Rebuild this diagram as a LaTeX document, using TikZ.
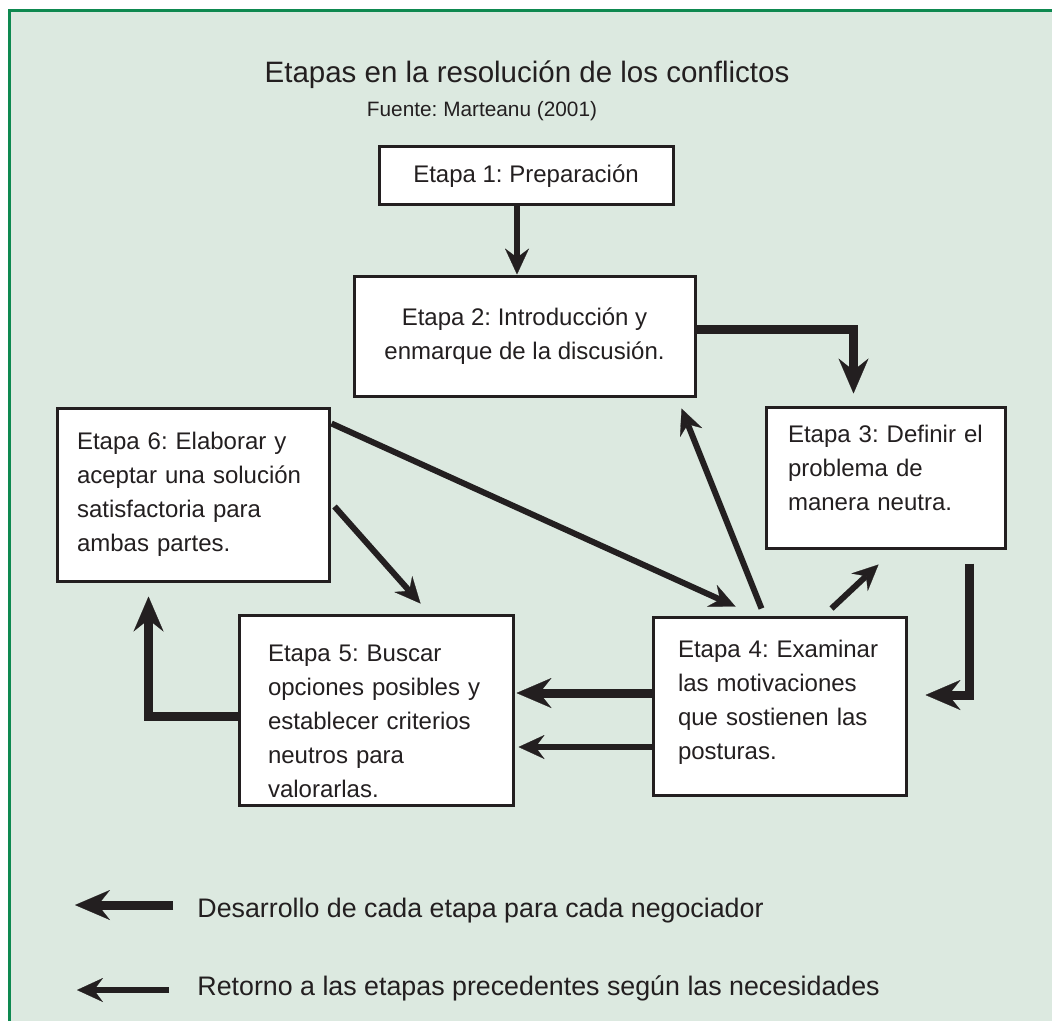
\documentclass[tikz,border=0pt]{standalone}
\usepackage{fontspec}
\setmainfont{Liberation Sans}
\usetikzlibrary{arrows.meta,calc}
\definecolor{fondo}{RGB}{220,233,224}
\definecolor{borde}{RGB}{14,137,80}
\definecolor{tinta}{RGB}{35,31,32}
\frenchspacing

\begin{document}
\begin{tikzpicture}[x=0.5pt,y=-0.5pt,
	etapa/.style={draw=tinta,line width=1.5pt,fill=white,text=tinta,font=\fontsize{12}{17}\selectfont},
	leyenda/.style={text=tinta,inner sep=0pt,anchor=west,font=\fontsize{13.4}{16}\selectfont},
	desarrollo/.style={draw=tinta,line width=4.5pt,-{Stealth[length=17.5pt,width=15pt,inset=6pt,line width=0.1pt]}},
	retorno/.style={draw=tinta,line width=3pt,-{Stealth[length=13pt,width=12pt,inset=4.5pt,line width=0.1pt]}}]
		\useasboundingbox (0,0) rectangle (1052,1021);
		\fill[white] (0,0) rectangle (1052,1021);
		\fill[fondo] (9.5,10.5) rectangle (1052,1021);
		\draw[borde,line width=1.75pt] (9.5,1021) -- (9.5,10.5) -- (1052,10.5);
		\node[text=tinta,font=\fontsize{14.75}{18}\selectfont] (titulo) at (527,75) {Etapas en la resolución de los conflictos};
		\node[text=tinta,font=\fontsize{10.4}{12}\selectfont] (fuente) at (482,111) {Fuente: Marteanu (2001)};
		\node[etapa,minimum width=147pt,minimum height=29pt] (e1) at (526,176) {Etapa 1: Preparación};
		\node[etapa,align=center,minimum width=170.5pt,minimum height=60pt] (e2) at (524.5,336) {Etapa 2: Introducción y\\enmarque de la discusión.};
		\node[etapa,align=left,inner xsep=11pt,text width=97.5pt,minimum height=70.5pt] (e3) at (885.5,477.5) {Etapa 3: Definir el\\problema de\\manera neutra.\rule[-10pt]{0pt}{0pt}};
		\node[etapa,align=left,inner xsep=12.5pt,text width=101.5pt,minimum height=89pt] (e4) at (779.5,706) {Etapa 4: Examinar\\las motivaciones\\que sostienen las\\posturas.\rule[-6pt]{0pt}{0pt}};
		\node[etapa,align=left,inner xsep=14.5pt,text width=108pt,minimum height=95pt] (e5) at (376,710) {\rule{0pt}{20pt}Etapa 5: Buscar\\opciones posibles y\\establecer criterios\\neutros para\\valorarlas.};
		\node[etapa,align=left,inner xsep=10pt,text width=116pt,minimum height=86.5pt] (e6) at (193,494.5) {Etapa 6: Elaborar y\\aceptar una solución\\satisfactoria para\\ambas partes.};
		\draw[retorno] ($(e1.south)+(-9,0)$) -- ($(e1.south |- e2.north)+(-9,0)$);
		\draw[desarrollo] ($(e2.east)+(0,-7)$) -| ($(e3.north west)+(89,-12)$);
		\draw[desarrollo] ($(e3.south east)+(-37,14)$) |- ($(e4.east)+(18,-11)$);
		\draw[desarrollo] ($(e4.west)+(0,-13)$) -- ($(e4.west -| e5.east)+(2,-13)$);
		\draw[retorno] ($(e4.west)+(0,41)$) -- ($(e4.west -| e5.east)+(4,41)$);
		\draw[desarrollo] ($(e5.west)+(0,6)$) -| ($(e6.south west)+(93,14)$);
		\draw[retorno] ($(e6.north east)+(1,17)$) -- ($(e4.north west)+(84,-9)$);
		\draw[retorno] ($(e6.east)+(4,12)$) -- ($(e5.north west)+(183,-10)$);
		\draw[retorno] ($(e4.north west)+(110,-7)$) -- ($(e2.south east)+(-15,11)$);
		\draw[retorno] ($(e4.north west)+(180,-7)$) -- ($(e3.south west)+(114,15)$);
		\node[leyenda] (l1) at (197,911) {Desarrollo de cada etapa para cada negociador};
		\node[leyenda] (l2) at (197,988) {Retorno a las etapas precedentes según las necesidades};
		\draw[desarrollo] ($(l1.west)+(-24,-6)$) -- ++(-98,0);
		\draw[retorno] ($(l2.west)+(-28,2)$) -- ++(-92,0);
		\end{tikzpicture}
\end{document}
